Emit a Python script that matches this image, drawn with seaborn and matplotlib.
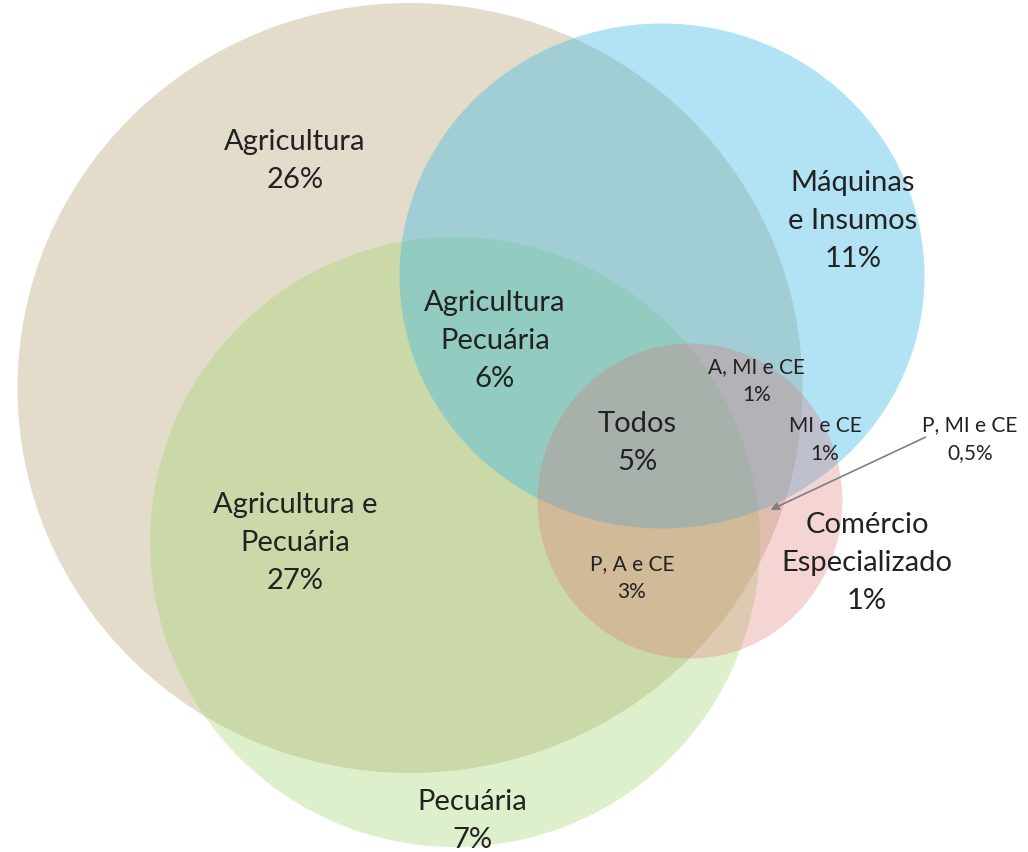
import matplotlib
matplotlib.use("Agg")
import matplotlib.pyplot as plt
from matplotlib.patches import Ellipse
import seaborn as sns

# Sets in the diagram (drawing order: bottom to top)
sets = ["Agricultura", "Pecuária", "Máquinas e Insumos", "Comércio Especializado"]
set_colors = ["#AF9B6A", "#A1D46A", "#3EB9E6", "#DE7373"]
set_alpha = [0.35, 0.35, 0.40, 0.30]
# ellipse geometry in picture pixels: centre x, centre y, width, height
set_cx = [410, 455, 662, 690]
set_cy = [389, 543, 277, 502]
set_w = [785, 610, 525, 305]
set_h = [770, 610, 505, 315]

# Region labels and shares
region_names = ["Agricultura", "Máquinas\ne Insumos", "Agricultura\nPecuária",
                "A, MI e CE", "Todos", "MI e CE", "P, MI e CE",
                "Comércio\nEspecializado", "P, A e CE", "Agricultura e\nPecuária",
                "Pecuária"]
region_shares = ["26%", "11%", "6%", "1%", "5%", "1%", "0,5%", "1%", "3%", "27%", "7%"]
label_x = [295, 853, 495, 757, 637, 825, 970, 867, 632, 295, 472]
label_y = [161, 221, 341, 381, 443, 440, 439, 563, 578, 543, 821]
label_size = [21, 21, 21, 15, 21, 15, 15, 21, 15, 21, 21]

sns.set_theme(style="white")
plt.rcParams['font.family'] = ['Lato', 'DejaVu Sans']

fig = plt.figure(figsize=(10.28, 8.53), dpi=100)
ax = fig.add_axes([0, 0, 1, 1])
ax.set_xlim(0, 1028)
ax.set_ylim(853, 0)
ax.set_axis_off()

for name, c, a, x, y, w, h in zip(sets, set_colors, set_alpha, set_cx, set_cy, set_w, set_h):
    ax.add_patch(Ellipse((x, y), w, h, facecolor=c, alpha=a, edgecolor="none", label=name))

for name, share, x, y, s in zip(region_names, region_shares, label_x, label_y, label_size):
    ls = 1.55 if s > 18 else 1.45
    ax.text(x, y, name + "\n" + share, ha="center", va="center", multialignment="center",
            fontsize=s, color="#222222", linespacing=ls)

# arrow pointing to the small P, MI e CE region
ax.annotate("", xy=(768, 512), xytext=(928, 437),
            arrowprops=dict(arrowstyle="-|>", color="#808080", lw=1.2, mutation_scale=12))

fig.savefig("out.png", dpi=100)
